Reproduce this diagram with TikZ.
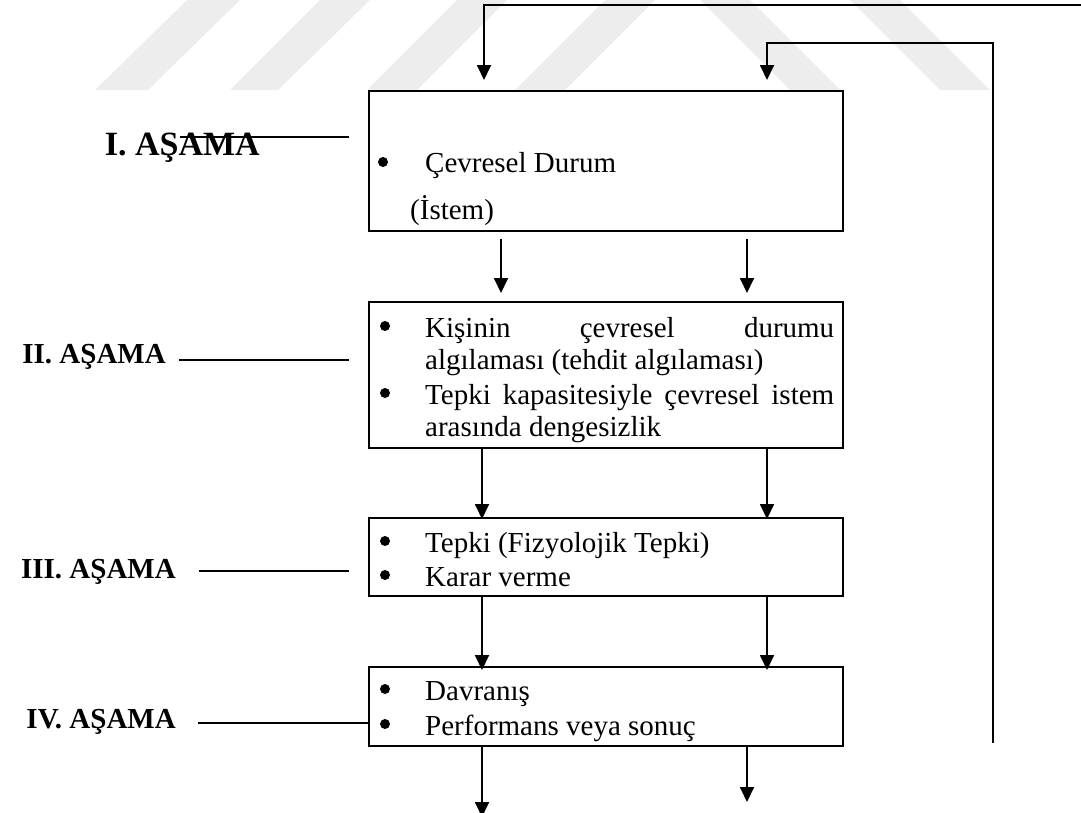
\documentclass[tikz,border=0pt]{standalone}
\usepackage{fontspec}
\setmainfont{Liberation Serif}
\usetikzlibrary{arrows.meta,calc}

\begin{document}
\begin{tikzpicture}[x=1pt,y=-1pt,
  box/.style={draw, line width=2pt, inner sep=0pt, minimum width=474pt, anchor=north west},
  conn/.style={line width=1.8pt, -{Triangle[length=15pt,width=14pt]}},
  tie/.style={line width=1.6pt},
  txt/.style={anchor=base west, inner sep=0pt, font=\fontsize{29}{33}\selectfont},
  stage/.style={anchor=base east, inner sep=0pt, font=\fontsize{29}{33}\selectfont\bfseries},
  bul/.style={circle, fill, inner sep=0pt, minimum size=10pt},
  wm/.style={fill=black!7, draw=none}
]
\useasboundingbox (0,0) rectangle (1081,812);

% faint background logo stripes
\fill[wm] (95,90) -- (148,90) -- (240,0) -- (187,0) -- cycle;
\fill[wm] (230,90) -- (278,90) -- (370,0) -- (320,0) -- cycle;
\fill[wm] (367,90) -- (417,90) -- (507,0) -- (457,0) -- cycle;
\fill[wm] (515,90) -- (565,90) -- (655,0) -- (605,0) -- cycle;
\fill[wm] (700,0) -- (750,0) -- (840,90) -- (790,90) -- cycle;
\fill[wm] (850,0) -- (900,0) -- (990,90) -- (940,90) -- cycle;

% stage boxes
\node[box, minimum height=139.5pt] (b1) at (367.5,90) {};
\node[box, minimum height=145.5pt] (b2) at (367.5,301) {};
\node[box, minimum height=78pt] (b3) at (367.5,517) {};
\node[box, minimum height=79pt] (b4) at (367.5,666) {};

% box contents
\node[bul] (d11) at (383,162) {};
\node[txt] (t11) at (425,172) {Çevresel Durum};
\node[txt] (t12) at (410,219) {(İstem)};

\node[bul] (d21) at (385,326) {};
\node[txt] (t21) at (425,337) {\makebox[409pt][s]{Kişinin çevresel durumu}};
\node[txt] (t22) at (425,369) {algılaması (tehdit algılaması)};
\node[bul] (d22) at (385,393) {};
\node[txt] (t23) at (425,404) {\makebox[409pt][s]{Tepki kapasitesiyle çevresel istem}};
\node[txt] (t24) at (425,436) {arasında dengesizlik};

\node[bul] (d31) at (385,541) {};
\node[txt] (t31) at (425,552) {Tepki (Fizyolojik Tepki)};
\node[bul] (d32) at (385,575) {};
\node[txt] (t32) at (425,586) {Karar verme};

\node[bul] (d41) at (385,689) {};
\node[txt] (t41) at (425,700) {Davranış};
\node[bul] (d42) at (385,724) {};
\node[txt] (t42) at (425,735) {Performans veya sonuç};

% stage labels and their tie lines
\node[stage, font=\fontsize{34}{38}\selectfont\bfseries] (s1) at (260,155) {I. AŞAMA};
\node[stage] (s2) at (166,363) {II. AŞAMA};
\node[stage] (s3) at (176,578) {III. AŞAMA};
\node[stage] (s4) at (176,728) {IV. AŞAMA};

\coordinate (k1) at (180,137);  \coordinate (k1e) at (349,137);
\coordinate (k2) at (179,360);  \coordinate (k2e) at (349,360);
\coordinate (k3) at (199,571);  \coordinate (k3e) at (349,571);
\coordinate (k4) at (198,723);
\draw[tie] (k1) -- (k1e);
\draw[tie] (k2) -- (k2e);
\draw[tie] (k3) -- (k3e);
\draw[tie] (k4) -- (k4 -| b4.west);

% arrow columns
\coordinate (cA) at (482,0);
\coordinate (cB) at (767,0);
\coordinate (cC) at (501,0);
\coordinate (cD) at (747,0);
\coordinate (cE) at (484,0);

% flow between stages
\draw[conn] ($(b1.south -| cC)+(0,7)$) -- ($(b2.north -| cC)+(0,-8)$);
\draw[conn] ($(b1.south -| cD)+(0,7)$) -- ($(b2.north -| cD)+(0,-8)$);
\draw[conn] (b2.south -| cA) -- ($(b3.north -| cA)+(0,2)$);
\draw[conn] (b2.south -| cB) -- ($(b3.north -| cB)+(0,2)$);
\draw[conn] (b3.south -| cA) -- ($(b4.north -| cA)+(0,4)$);
\draw[conn] (b3.south -| cB) -- ($(b4.north -| cB)+(0,4)$);

\coordinate (outL) at (482,817);
\coordinate (outR) at (747,802);
\draw[conn] (b4.south -| cA) -- (outL);
\draw[conn] (b4.south -| cD) -- (outR);

% feedback loops
\coordinate (fA) at (1082,5);
\draw[conn] (fA) -| ($(b1.north -| cE)+(0,-10)$);
\coordinate (fB) at (993,743);
\coordinate (fBt) at (993,43);
\draw[conn] (fB) -- (fBt) -| ($(b1.north -| cB)+(0,-10)$);
\end{tikzpicture}
\end{document}
